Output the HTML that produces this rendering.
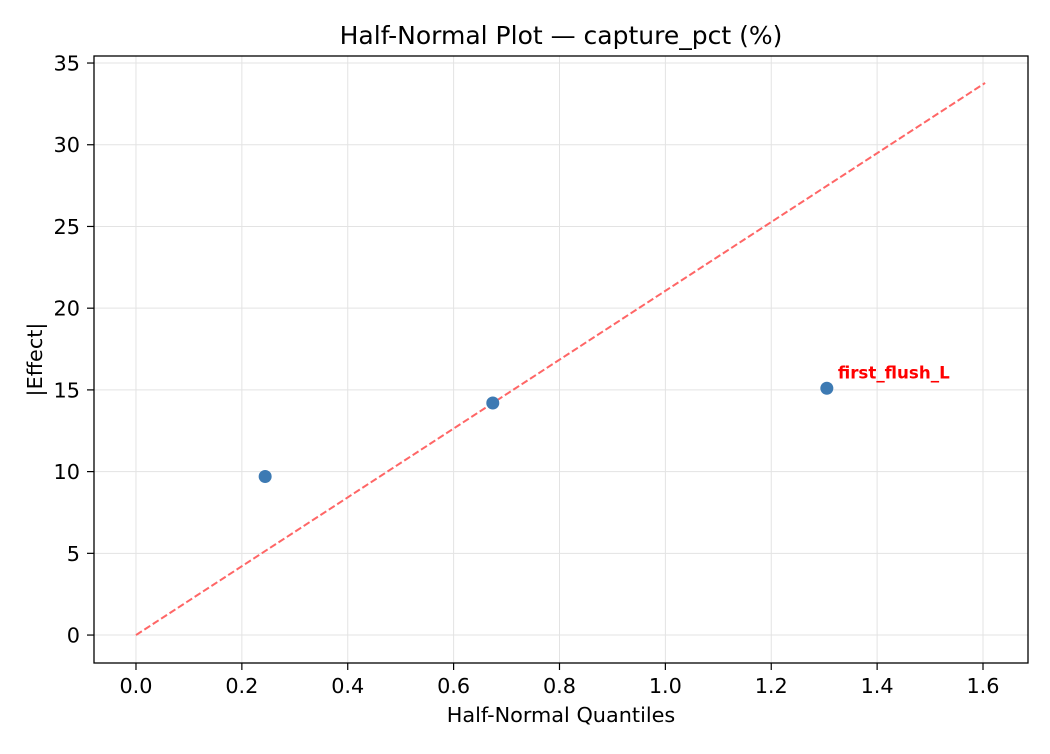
<!DOCTYPE html>
<html><head><meta charset="utf-8"><style>
body{margin:0;background:#fff;font-family:"DejaVu Sans","Liberation Sans",sans-serif;}
</style></head><body>
<svg id="chart" width="1050" height="750" xmlns="http://www.w3.org/2000/svg" font-family="DejaVu Sans, Liberation Sans, sans-serif"></svg>
<script>
const xTicks=[0.0,0.2,0.4,0.6,0.8,1.0,1.2,1.4,1.6];
const yTicks=[0,5,10,15,20,25,30,35];
const quantiles=[0.244,0.674,1.305];
const effects=[9.7,14.2,15.1];
const labels=["","","first_flush_L"];
const refLineX=[0,1.604];
const refSlope=[21.06];
const L=94,R=1028,T=56,B=663;
const xMin=-0.0793,xMax=1.685,yMin=-1.71,yMax=35.43;
const sx=v=>L+(v-xMin)/(xMax-xMin)*(R-L);
const sy=v=>B-(v-yMin)/(yMax-yMin)*(B-T);
const svg=document.getElementById('chart');
const NS='http://www.w3.org/2000/svg';
function mk(tag,attrs,parent){const e=document.createElementNS(NS,tag);for(const k in attrs)e.setAttribute(k,attrs[k]);(parent||svg).appendChild(e);return e;}
xTicks.forEach(t=>{
 const g=mk('line',{x1:sx(t),x2:sx(t),y1:T,y2:B,stroke:'#e3e3e3','stroke-width':1});
 
 
 mk('line',{x1:sx(t),x2:sx(t),y1:B,y2:B+7,stroke:'#000','stroke-width':1.2});
 const tx=mk('text',{x:sx(t),y:B+30,'text-anchor':'middle','font-size':20.8});
 tx.textContent=t.toFixed(1);
 
 
});
yTicks.forEach(t=>{
 const g=mk('line',{x1:L,x2:R,y1:sy(t),y2:sy(t),stroke:'#e3e3e3','stroke-width':1});
 
 
 mk('line',{x1:L-7,x2:L,y1:sy(t),y2:sy(t),stroke:'#000','stroke-width':1.2});
 const tx=mk('text',{x:L-14,y:sy(t)+7.5,'text-anchor':'end','font-size':20.8});
 tx.textContent=t;
 
 
});
const ln=mk('line',{x1:sx(refLineX[0]),y1:sy(refLineX[0]*refSlope[0]),x2:sx(refLineX[1]),y2:sy(refLineX[1]*refSlope[0]),stroke:'#ff6666','stroke-width':2,'stroke-dasharray':'7,3'});


quantiles.forEach((q,i)=>{
 const c=mk('circle',{cx:sx(q),cy:sy(effects[i]),r:6.5,fill:'#3d7ab3'});
 
 
 if(labels[i]){
  const t=mk('text',{x:sx(q)+11,y:sy(effects[i])-10,fill:'#ff0000','font-size':16.7,'font-weight':'bold'});
  t.textContent=labels[i];
  
  
 }
});
const fr=mk('rect',{x:L,y:T,width:R-L,height:B-T,fill:'none',stroke:'#000','stroke-width':1.3});


const ti=mk('text',{x:(L+R)/2,y:44,'text-anchor':'middle','font-size':25});
ti.textContent='Half-Normal Plot — capture_pct (%)';


const xl=mk('text',{x:(L+R)/2,y:722,'text-anchor':'middle','font-size':20.8});
xl.textContent='Half-Normal Quantiles';


const yl=mk('text',{x:0,y:0,'text-anchor':'middle','font-size':20.8,transform:'translate(42,'+((T+B)/2)+') rotate(-90)'});
yl.textContent='|Effect|';


</script>
</body></html>
